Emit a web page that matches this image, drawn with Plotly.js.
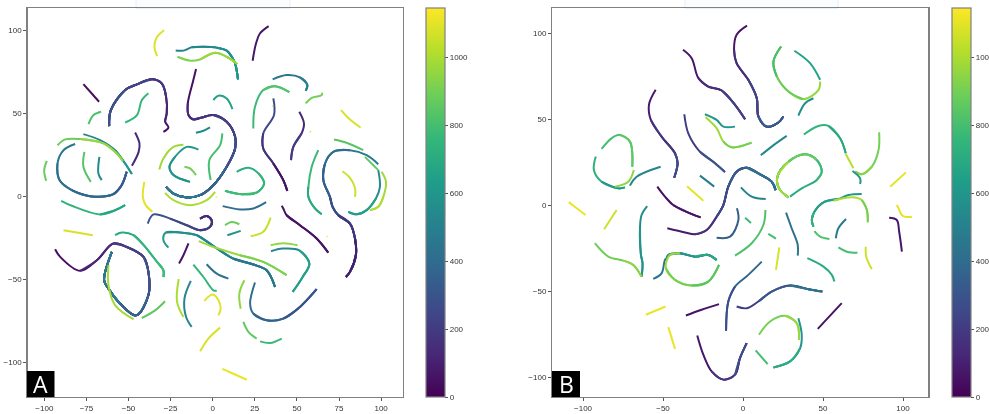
<!DOCTYPE html>
<html><head><meta charset="utf-8">
<script src="https://cdn.plot.ly/plotly-3.0.1.min.js"></script>
<style>html,body{margin:0;padding:0;background:#fff;overflow:hidden}#c{width:989px;height:414px;filter:blur(0.4px)}</style>
</head><body><div id="c"></div>
<script>
const colorMax = 1145;
const colorTicks = [0,200,400,600,800,1000];
const viridis = ['#440154','#482878','#3e4989','#31688e','#26828e','#1f9e89','#35b779','#6ece58','#b5de2b','#fde725'];

const aX = [
[-28.9,-33.2,-34.6,-33],
[-22,-17.4,-12.5,-5.5,2.4,8.3,11.3,13.3,15],
[-21,-13,-7.5,1.4,8.3,14.6],
[33.2,28,25.7,23.7],
[-76.8,-67.5],
[-29.3,-26.3,-28.3,-27.3,-27.7,-30.3,-36.2,-45,-52,-60.5,-61.5],
[-38.2,-42.1,-45,-52],
[-73.8,-70.8,-66.3],
[-9.9,-11.5,-14.8,-14.4,-11.5,-6.5,0.4,8.3,13.3,13.3,8.3,0.4,-7.5,-15.4,-23.3,-27.7],
[0.4,3.4,8.3,11.7],
[-10,-5.5,-1.6],
[5.7,4.4,-2,-1.2],
[-8.5,-15.4,-22.4,-25.7,-23.3,-13.5],
[-17.4,-23.3,-29.3,-31.7],
[-16.8,-13.5,-9.9],
[-28.3,-23.3,-13.5,-3.6,1.4],
[2,2.3],
[14.2,21.2,27.2,30.5,26.1,17.2,7.3],
[36,36.4,30,30,36,41.9,44.3],
[35.4,35.8],
[35.6,43.9,51.8,56.2,55.2],
[24.1,25.1,30,37,45.5],
[55.2,58.8,64.7,65],
[51.4,54.2,52.8,47.9,46.5],
[57.8,58.1],
[76.2,81.5,87.8],
[72,79.5,89.4],
[98.3,91.4,81.5,71.6,66.7,65.7,69.6,71.2,74.6,81.5,84.5,85,81.5,79.1],
[98.3,99.3,96.9,91.4,85.5,80.5],
[90.4,98.3],
[100.3,102.9,101.3,98.3,93.4],
[62.7,58.8,56.8,56.8,60.7,64.7],
[77,81.5,84.5,84.5],
[-81.7,-88.6,-92.2,-91,-83.7,-72.9,-59,-54.1,-51.1],
[-48,-44,-43.5,-46.1],
[-76.8,-66.9,-58,-52,-48],
[-92.2,-87.6,-78.7,-64.9,-58,-53.4],
[-98.5,-100.1,-98.9],
[-76.2,-76.8,-72.4],
[-67.3,-67.9,-65.9],
[-40.6,-41.5,-39.8,-35.8],
[-90,-83.7,-66.9,-58,-52],
[5.9,16.2,24.1,31.7],
[41,41.9,43.9,51.8,61.7,68.6],
[-38.6,-35.2,-25.3,-15.4,-7.5,-1.6,-0.6,-3.6,-7.5],
[7.3,11.3,15.8],
[8.7,16.6],
[22.6,30,34.4],
[67.9,68.2],
[-88.6,-71.2],
[-58,-54,-47,-41,-33.1,-29.3,-29.3],
[-26.3,-29.3,-27.9,-19.4,-9.5,0.4,12.2,24.1,32,37],
[-8.3,0.4,16.2,30,43.9],
[-14.4,-17.4,-20],
[-93.6,-90.6,-78.7,-68.8,-59,-51,-41.1,-38.2,-38.2,-45.5,-55,-61.9,-64.5,-59.9],
[-61.9,-61.9,-57.9,-47],
[-42.1,-34.2,-28.3],
[-20.2,-21.2,-17.4],
[-13,-16.8,-15.8,-12.5],
[-11.5,-5.5,0.4,2.4],
[-3.6,2.4,9.3],
[-5,0,3.4,4.7,3.4],
[18.8,15.8,16.6],
[25.1,22.2,24.1,32,41.9,51.8,61.7],
[34.6,41.5,51.4,57.4,53.4,47.5],
[34.4,41.9,50.4],
[18.2,21.2,26.1],
[28.1,34,41],
[-7.5,-2.6,4.4],
[5.7,12.3,20.2]
];
const aY = [
[100,95.7,90,84.4],
[87.7,87.7,89.7,90,89.5,87.7,84,80,70.4],
[84,81.6,82.4,86.4,84,79.6],
[102.5,98,92,81.6],
[67.5,56.9],
[38.8,41.4,45,50,60,68,70.4,67.4,64,51.9,42.2],
[62,57.9,48.9,44.4],
[43.4,48.9,50.9],
[76.6,70,55.9,48.9,46.2,47.4,48.9,44.8,35.8,28.7,17.7,6.6,0.6,-0.8,1.6,5.6],
[57.9,60.5,58.9,52.5],
[38.2,39.4,41.4],
[37.8,30.8,21.7,9.7],
[28.1,29.7,23.7,17.7,12.7,8.6],
[31,29.7,22.7,16],
[17.7,16.7,12.7],
[2,-2.4,-5.4,-2.4,2.6],
[-0.4,-0.8],
[14.7,17.1,13.7,7.6,2.2,1.2,3.2],
[58.9,48.9,37.8,28.7,19.7,9.7,3.2],
[54.7,54.3],
[70.4,73,71.6,67,63.5],
[40.8,53.9,63.9,66.3,62.7],
[55.9,59.3,60.9,62.3],
[50.9,43.8,37.8,29.8,21.7],
[39,38.6],
[51.9,46.2,41.4],
[34.2,32.2,27.7],
[19.3,24.7,27.7,26.7,19.7,9.7,-0.4,-6.4,-11.5,-16.5,-25.5,-35.6,-45.6,-48.7],
[15.7,5.6,-1.4,-8.4,-10.9,-9.4],
[23.7,15.7],
[14.7,8.6,-0.4,-6.4,-8.4],
[27.7,17.7,5.6,-0.4,-7.4,-10.9],
[15,11,5,-0.4],
[31.4,27.7,19.7,9.7,3.6,0,1.2,6.6,14.7],
[18.3,26.7,31.8,38.4],
[37.4,33.8,27.7,19.7,13.3],
[30.6,34.2,34.4,31.8,26.7,21.3],
[21.3,15.7,9.2],
[26.7,17.7,8.6],
[23.7,13.7,9.7],
[8.6,-0.4,-5.4,-9.4],
[-2.8,-5.8,-11,-8.5,-5.4],
[-6,-8,-7.4,-3.6],
[-5.8,-7.4,-11.5,-17.5,-25.5,-34],
[-16.5,-11,-13.5,-17.5,-20.5,-18.5,-14.5,-12,-13.5],
[-17.5,-15.5,-16.9],
[-23.5,-20.9],
[-24.1,-21.5,-12.9],
[-24.1,-24.4],
[-20.5,-23.5],
[-23.5,-21.9,-23.5,-29.5,-39.6,-44.6,-48.7],
[-31,-26.5,-21.9,-21.9,-23.5,-30,-37.6,-41.2,-44.6,-54.7],
[-27.1,-30.6,-35.6,-39.6,-47.6],
[-28.5,-35.6,-40.6],
[-32,-36.6,-45,-38.6,-28.5,-30.6,-36.6,-45.6,-59.7,-71.8,-64.7,-55.7,-50.7,-33.6],
[-41.6,-53.7,-65.8,-74.2],
[-73.4,-68.8,-63.3],
[-50,-63.7,-72.8],
[-51,-61.7,-72.8,-78.8],
[-41.2,-48.7,-56.7,-57],
[-41,-46.7,-49.7],
[-63.1,-59.3,-62.7,-67.8,-71.8],
[-50.7,-58.7,-67.8],
[-52,-64.7,-70.8,-74.8,-73.8,-66.7,-56],
[-33.2,-31.6,-32.6,-40.6,-48.7,-57.7],
[-29.6,-28.4,-29.6],
[-75.8,-81.8,-85.8],
[-87.5,-88.5,-85.8],
[-93.5,-85.8,-79.2],
[-104,-107,-110.6]
];
const aV = [
1090,
[480,500,520,540,560,570,590,610,620],
[900,920,950,970,990,1000],
[60,70,80,90],
40,
[40,50,80,120,160,190,220,240,260,300,330],
760,820,
[30,50,100,130,150,170,190,220,260,290,330,380,430,490,530,560],
650,540,
[770,800,830,850],
[620,610,600,590,570,560],
980,900,1000,1100,
[700,720,740,760,780,790,800],
[300,260,200,160,100,60,30],
1080,
[420,450,470,490,500],
[750,780,810,830,850],
900,
[100,130,170,210,250],
1020,1080,
[860,840,800],
[500,470,440,400,370,340,300,260,220,170,130,90,50,30],
[520,560,600,650,690,720],
850,
[960,980,1000,1010,1020],
[800,770,730,690,650,620],
1060,
[480,460,440,420,400,380,350,320,300],
[170,140,110,90],
[470,520,570,610,640],
[850,880,920,960,980,1000],
880,840,540,1100,
[780,750,700,670,640],
[440,410,370,340],
[40,45,50,60,75,90],
[320,290,260,230,200,170,150,130,120],
880,580,1050,1070,1080,
[660,690,720,750,780,790,800],
[640,620,600,570,540,510,470,440,420,400],
[1000,970,940,910,880],
60,
[30,50,90,130,170,220,260,300,340,380,440,480,520,570],
[1050,990,920,850],
[900,860,820],
1000,
[480,520,560,600],
[700,750,800,850],
420,1090,950,
[430,410,380,350,320,300,280],
[480,530,590,650,710,760],
960,860,780,1080,1110
];

const bX = [
[2.5,-4,-5.6,-4,3.3,8.6,9.6,14.8,22.1,25.2],
[-37.5,-32.1,-27.9,-21.7,-13.3,-5,1.3],
[-54.6,-58.8,-57.6,-50.9,-42.5,-40.9,-43],
[-36.7,-34.2,-27,-17.5,-11.3],
[32.1,41.9,48.2],
[48.2,47.2,37.7,28.4,21.1,19,23.8],
[44,38.8,34.6],
[-23.8,-16.5,-12.3,-5],
[-23.4,-16.5,-12.3,-7.1,5.4],
[11.1,17.9,27.3],
[38,47.1,53.4,60.7,64.2],
[64.2,69],
[85.1,84.7,80.5,74.2,70.1],
[68.4,73.2,73.2],
[-88.4,-82.2,-77,-70.7,-69.2],
[-92,-93.2,-88.4,-78,-73.8],
[-80,-71.7,-68.2],
[-70.7,-66.5,-51.5],
[-47.3,-36.3,-30,-22.7,-16.5,-12.3,-9.2,-4,2.3,9.6,17.9,20.4],
[29.4,36.7,46.1,49.2,46.1,38.8,28.4,21.5,22.5,28.4],
[-53.6,-48.8,-43.6,-36.3,-26.5],
[-35,-24.8],
[-26.9,-18],
[92,101.8],
[-108.9,-106,-98.4],
[-86.8,-79],
[-59.9,-63.4,-64.4,-63.8,-62.8,-63.4],
[-92.6,-84.2,-74.9,-68.6,-63.4],
[-56.1,-50.9,-48.8,-47.8,-46.7,-39.5,-30,-21.7,-16.5],
[-39.5,-45.7,-48.2,-42.5,-32,-21.7,-15],
[11.7,3.3,-5,-9.2,-10.6],
[-4,2.3,9.6,17.9,29.4,40.9,49.6],
[-35.7,-25.9,-15],
[-60.7,-48.4],
[-46.7,-42.5],
[-28.6,-24.8,-19.6,-12.3,-5,-1.9,2.3],
[46.7,61.7],
[10,16.9,26.3,33.6,35],
[34.6,36.7,35.7,29.4,19],
[7.9,15.4],
[91.3,96.1,97.6,99.3],
[96.1,97.2,99.7,105.5],
[74.2,65.9,59.6,50.3,44.6,43,44],
[56.5,68,74.2,77.4,78],
[44.6,48.2,54],
[64.4,59.6,58],
[59.6,64.9,71.5],
[76.7,77,80.5],
[26.9,30.4,34.2,34.2],
[40.2,50.3,55.5,57.1],
[22.7,20.6],
[14,12.7,5.4,-5],
[-3.8,-2.9,-8.1,-16.5],
[-1.3,5.4,14.2],
[1.3,5],
[15.8,20.6]
];
const bY = [
[104.3,99,90.3,82.5,72.8,62.1,51.5,45.6,48,51.5],
[90.3,85.4,73.8,68.9,66.6,58.3,49.9],
[67,58.3,49.5,39.8,30.1,24.3,15.9],
[52.8,41.7,31.1,24.3,19.2],
[89.7,82.5,72.8],
[71.8,67,61.5,66,74.8,83.5,92.2],
[62.1,59.2,52],
[52.8,49.5,45.6,45.6],
[51.1,44.7,36.9,33.6,36.3],
[28.9,34,40.2],
[41,46,46,38.8,30.1],
[29.7,21.4],
[42.3,32,22.3,17.9,19.4],
[19.8,15.5,12.2],
[32.6,38.8,40.8,36.9,22.3],
[28.2,20.4,13.6,9.7,10.3],
[10.7,13.6,20.4],
[11.3,16.5,22.3],
[-13.5,-15.9,-17,-14.5,-6.8,0,10.7,19.4,21.7,18.4,13.6,8.7],
[4.9,9.7,14.6,19.4,26.2,29.5,25.2,16.5,9.7,4.5],
[10.7,4.9,0,-3.5,-7.2],
[11,2.5],
[17.1,10.7],
[10.7,19],
[1.7,-0.4,-5.8],
[-14.1,-2.9],
[-0.6,-5.8,-13.5,-29,-33.8,-41.6],
[-22.2,-30,-32.3,-34.8,-41.6],
[-42.9,-39.7,-31.9,-31,-29,-28,-30,-29,-31.9],
[-28,-29,-36.8,-43.5,-46.8,-44.5,-34.8],
[-32.9,-40.6,-47.4,-56.1,-73.1],
[-59,-60,-56.1,-50.3,-46.8,-48.9,-50.3],
[-64.2,-60.9,-57.6],
[-63.8,-59],
[-71,-83.6],
[-75.8,-87,-96.7,-101.5,-98.6,-89,-80.3],
[-72,-57],
[-75.4,-67.7,-64.4,-68.7,-78.3],
[-65.8,-75.4,-83.2,-90.9,-94.4],
[-84.5,-92.5],
[-7.4,-8.7,-15.5,-27.1],
[0,-1.9,-6.2,-7],
[6.4,5.8,3.5,1.6,-3.9,-8.7,-12.6],
[2.5,4.5,2.9,-2.9,-10],
[-15.1,-18.4,-19.7],
[-8.1,-13.5,-19.3],
[-24.6,-27.1,-27.7],
[-24.2,-30,-37.3],
[-4.4,-13.5,-23.2,-29.4],
[-30.9,-35.8,-40.6,-44.5],
[-24.6,-37.7],
[-2.9,-11.6,-22.2,-29.4],
[-1.9,-8.7,-18.4,-19],
[10.3,4.9,3.5],
[-7.4,-10.4],
[-16.8,-19.5]
];
const bV = [
[30,70,110,150,190,240,300,340,370,400],
[40,70,110,150,190,230,270],
[40,80,130,180,230,270,310],
[170,210,260,300,330],
[640,660,680],
[1000,960,920,880,850,800,760],
560,
[640,600,570,540],
[1020,980,940,900,880],
[500,530,560],
[780,750,710,680,650],
1020,
[880,900,920,940,950],
590,
[780,800,830,860,880],
[780,730,660,600,560],
[1000,950,900],
520,
[40,80,120,170,220,260,300,340,380,430,490,540],
[660,700,740,780,830,880,930,990,1020,1050],
[40,50,60,70,80],
1100,480,1100,1110,1060,
[520,550,580,590,560,500],
[880,890,900,950,1000],
[400,450,500,530,560,600,640,680,700],
[1020,980,940,900,870,840,820],
[420,380,330,270,220],
[170,210,260,320,380,430,470],
[30,60,90],
1110,1110,
[30,70,120,180,230,280,330],
60,
[860,900,940,970,1000],
[540,590,640,700,760],
800,70,1100,
[560,590,620,650,690,740,780],
[1030,1000,950,900,860],
820,470,800,1060,430,
[760,700,640,590],
1080,
[880,820,740,640],
[400,340,260,200],
520,780,800
];

function hex(h){return [1,3,5].map(i=>parseInt(h.substr(i,2),16));}
function colorOf(v){
  const t=Math.min(1,Math.max(0,v/colorMax))*(viridis.length-1);
  const i=Math.min(viridis.length-2,Math.floor(t)),f=t-i;
  const a=hex(viridis[i]),b=hex(viridis[i+1]);
  return 'rgb('+a.map((c,k)=>Math.round(c+(b[k]-c)*f)).join(',')+')';
}
const traces=[];
function addCurves(X,Y,V,xa,ya){
  X.forEach((xs,c)=>{
    const ys=Y[c],vs=V[c];
    const push=(x,y,v)=>traces.push({type:'scatter',mode:'lines',x,y,xaxis:xa,yaxis:ya,showlegend:false,hoverinfo:'skip',
      line:{color:colorOf(v),width:2,shape:x.length>2?'spline':'linear',smoothing:1}});
    if(typeof vs==='number'){push(xs,ys,vs);return;}
    // each later copy repaints the rest of the same spline in the colour of its next point
    for(let i=0;i<xs.length-2;i+=2){
      push(xs.slice(i),ys.slice(i),vs[i+1]);
    }
  });
}
addCurves(aX,aY,aV,'x','y');
addCurves(bX,bY,bV,'x2','y2');

const W=989,H=414,top_=8.3,bot=397;
const colorscale=viridis.map((c,i)=>[i/(viridis.length-1),c]);
function bar(left,xa,ya,px,py){
  return {type:'scatter',mode:'markers',x:[px],y:[py],xaxis:xa,yaxis:ya,showlegend:false,hoverinfo:'skip',
    marker:{size:1,opacity:0,color:[0],cmin:0,cmax:colorMax,colorscale,showscale:true,
      colorbar:{x:left/W,xanchor:'left',xpad:0,ypad:0,y:(H-bot)/H,yanchor:'bottom',len:bot-top_,lenmode:'pixels',
        thickness:19.4,thicknessmode:'pixels',tickvals:colorTicks,ticks:'outside',ticklen:3,tickcolor:'#555',tickwidth:1,
        outlinecolor:'#808080',outlinewidth:1.2,tickfont:{family:'Liberation Sans',size:8,color:'#333'}}}};
}
traces.push(bar(426.3,'x','y',0,500));
traces.push(bar(951.7,'x2','y2',0,500));

function ax(dom,range,dtick,anchor){
  return {domain:dom,range,tickmode:'linear',tick0:0,dtick,anchor,fixedrange:true,showgrid:false,zeroline:false,
    showline:true,mirror:true,linecolor:'#808080',linewidth:1.3,ticks:'outside',ticklen:3,tickcolor:'#555',tickwidth:1,
    tickfont:{family:'Liberation Sans',size:8,color:'#333'}};
}
const yd=[(H-bot)/H,(H-top_)/H];
const layout={width:W,height:H,margin:{l:0,r:0,t:0,b:0,autoexpand:false},paper_bgcolor:'#fff',plot_bgcolor:'#fff',showlegend:false,
  xaxis:ax([27.5/W,403/W],[-110,113],25,'y'),
  yaxis:ax(yd,[-121,113.2],50,'x'),
  xaxis2:ax([552.3/W,928.3/W],[-119.2,115.8],50,'y2'),
  yaxis2:ax(yd,[-111.6,114.4],50,'x2'),
  shapes:[
    {type:'rect',xref:'paper',yref:'paper',x0:136/W,x1:290/W,y0:(H-top_)/H,y1:1.01,fillcolor:'#fafcfe',line:{color:'#e4eefa',width:1},layer:'below'},
    {type:'rect',xref:'paper',yref:'paper',x0:685/W,x1:838/W,y0:(H-top_)/H,y1:1.01,fillcolor:'#fafcfe',line:{color:'#e4eefa',width:1},layer:'below'},
    {type:'rect',xref:'paper',yref:'paper',x0:27/W,x1:54.5/W,y0:(H-bot)/H,y1:(H-371)/H,fillcolor:'#000',line:{width:0}},
    {type:'rect',xref:'paper',yref:'paper',x0:552/W,x1:580/W,y0:(H-bot)/H,y1:(H-371)/H,fillcolor:'#000',line:{width:0}}
  ],
  annotations:[
    {xref:'paper',yref:'paper',x:40.7/W,y:(H-384)/H,xanchor:'center',yanchor:'middle',text:'A',showarrow:false,font:{family:'Open Sans',size:23,color:'#fff'}},
    {xref:'paper',yref:'paper',x:566/W,y:(H-384)/H,xanchor:'center',yanchor:'middle',text:'B',showarrow:false,font:{family:'Open Sans',size:23,color:'#fff'}}
  ]};
Plotly.newPlot('c',traces,layout,{displayModeBar:false,staticPlot:true});
</script></body></html>
